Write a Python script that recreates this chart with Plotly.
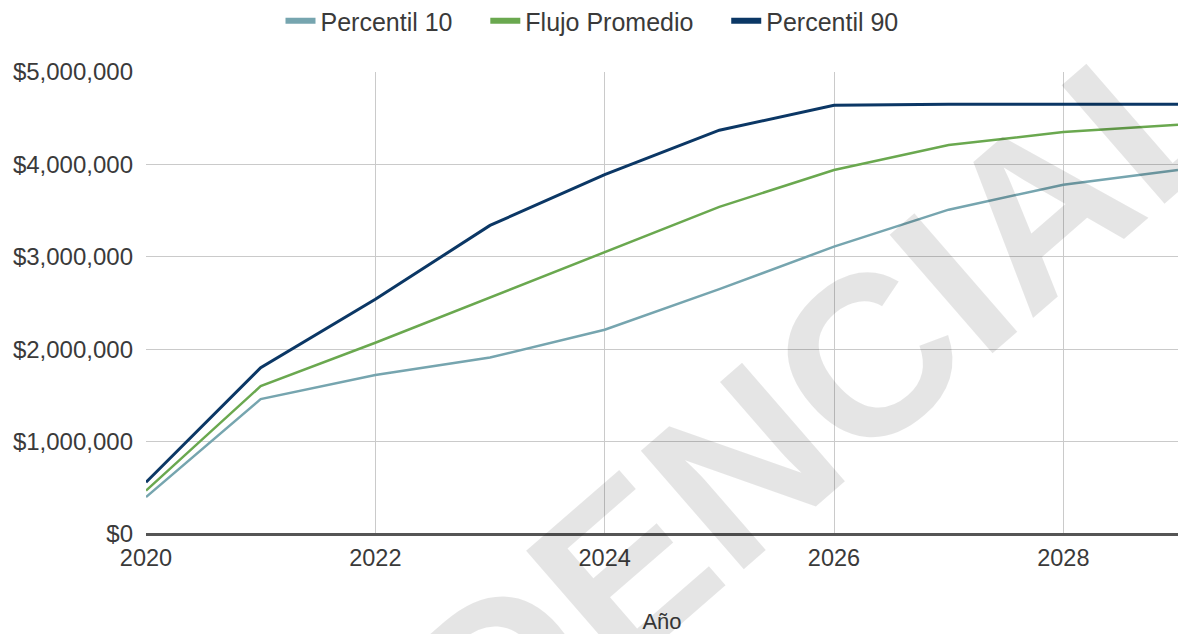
import plotly.graph_objects as go

# Annual cash-flow projection (USD)
years = [2020, 2021, 2022, 2023, 2024, 2025, 2026, 2027, 2028, 2029]
percentil_10 = [400000, 1460000, 1720000, 1910000, 2210000, 2650000, 3110000, 3510000, 3780000, 3940000]
flujo_promedio = [470000, 1600000, 2070000, 2560000, 3050000, 3540000, 3940000, 4210000, 4350000, 4430000]
percentil_90 = [560000, 1800000, 2540000, 3340000, 3890000, 4370000, 4640000, 4650000, 4650000, 4650000]

series_names = ["Percentil 10", "Flujo Promedio", "Percentil 90"]
series_values = [percentil_10, flujo_promedio, percentil_90]
series_colors = ["#76a5af", "#6aa84f", "#0b3765"]
series_widths = [2.5, 2.5, 3]

y_ticks = [0, 1000000, 2000000, 3000000, 4000000, 5000000]
x_ticks = [2020, 2022, 2024, 2026, 2028]

FONT = "Liberation Sans, Arial, sans-serif"
TEXT = "#3a3a3a"
PAD = "\u00a0" * 4  # extra room between legend entries

fig = go.Figure()
for name, vals, color, w in zip(series_names, series_values, series_colors, series_widths):
    fig.add_trace(go.Scatter(
        x=years, y=vals, mode="lines", name=name, showlegend=False,
        line=dict(color=color, width=w), hoverinfo="x+y+name",
    ))
    # thicker swatch for the legend entry
    fig.add_trace(go.Scatter(
        x=[None], y=[None], mode="lines", name=name + PAD,
        line=dict(color=color, width=6), hoverinfo="skip",
    ))

fig.add_annotation(
    text="<b>CONFIDENCIAL</b>", xref="paper", yref="paper",
    x=(556 - 146) / 1032, y=(534 - 628) / 462, xanchor="center", yanchor="middle",
    textangle=-41, showarrow=False,
    font=dict(family=FONT, size=228, color="rgba(0,0,0,0.10)"),
)

fig.update_layout(
    width=1178, height=634,
    margin=dict(l=146, r=0, t=72, b=100),
    paper_bgcolor="white", plot_bgcolor="white",
    font=dict(family=FONT, size=23, color=TEXT),
    legend=dict(
        orientation="h", xref="paper", x=(606 - 146) / 1032, xanchor="center",
        yref="container", y=1 - 21 / 634, yanchor="middle",
        font=dict(size=25, color=TEXT), itemwidth=30,
    ),
    xaxis=dict(
        range=[2020, 2029], tickvals=x_ticks, ticktext=[str(v) for v in x_ticks],
        showgrid=True, gridcolor="#cacaca", gridwidth=1.2,
        zeroline=False, showline=False, ticks="", ticklabelstandoff=7,
        tickfont=dict(size=23.5, color=TEXT),
        title=dict(text="Año", font=dict(size=22, color=TEXT), standoff=45),
    ),
    yaxis=dict(
        range=[0, 5000000], tickvals=y_ticks, tickformat="$,.0f",
        showgrid=True, gridcolor="#cacaca", gridwidth=1.2,
        zeroline=True, zerolinecolor="#555555", zerolinewidth=2.5,
        showline=False, ticks="", ticklabelstandoff=12,
        tickfont=dict(size=24, color=TEXT),
    ),
)

fig.write_html("out.html")
